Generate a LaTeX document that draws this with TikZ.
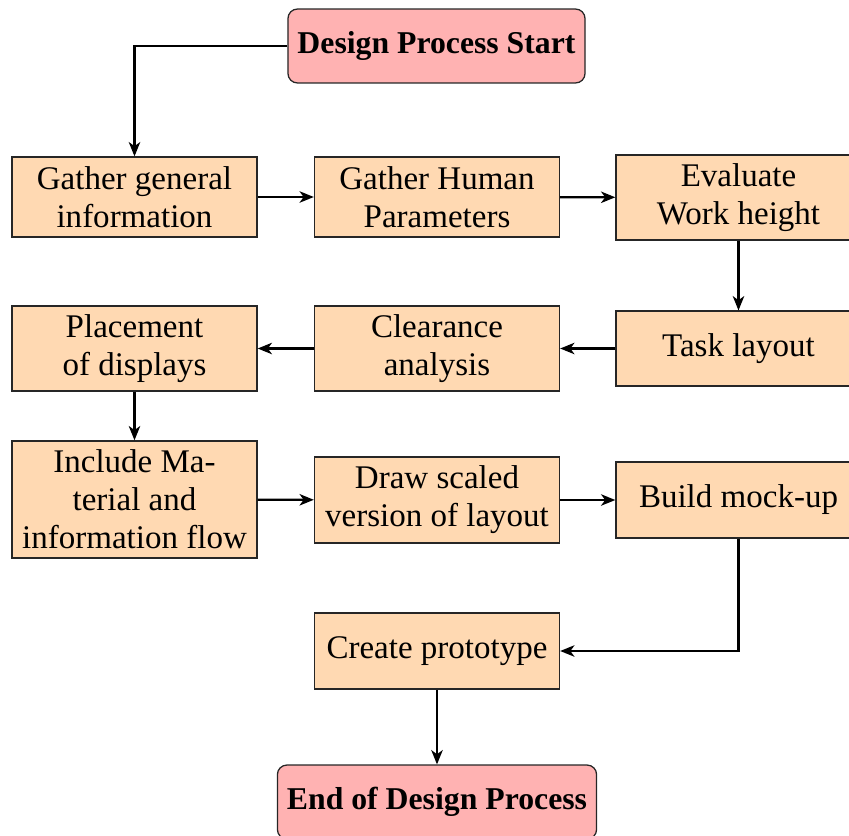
\documentclass[tikz,border=0pt]{standalone}
\usepackage{fontspec}
\setmainfont{Liberation Serif}
\usetikzlibrary{arrows.meta}
\begin{document}
\begin{tikzpicture}[x=0.315pt,y=-0.315pt,
  every node/.style={font=\fontsize{10.4}{12}\selectfont},
  box/.style={draw=black!85, thin, fill=orange!30, align=center,
    inner xsep=2pt, inner ysep=1pt, minimum width=77.2pt},
  term/.style={draw=black!85, thin, fill=red!30, rounded corners=3pt, align=center,
    inner xsep=3pt, minimum height=23.3pt, font=\fontsize{10}{12}\selectfont\bfseries},
  arr/.style={-{Stealth[length=4.5pt,width=3.6pt,inset=1.3pt]}, line width=0.7pt}]
\useasboundingbox (0,0) rectangle (849,836);
\node[term] (start) at (436.5,46) {Design Process Start};
\node[box, minimum height=25.2pt] (g1) at (134.5,197) {Gather general\\information};
\node[box, minimum height=25.2pt] (g2) at (437,197) {Gather Human\\Parameters};
\node[box, minimum height=26.8pt] (ev) at (738.5,197.5) {Evaluate\\Work height};
\node[box, minimum height=23.6pt] (task) at (738.5,348.5) {Task layout};
\node[box, minimum height=26.8pt] (clear) at (437,348.5) {Clearance\\analysis};
\node[box, minimum height=26.8pt] (place) at (134.5,348.5) {Placement\\of displays};
\node[box, minimum height=36.9pt] (incl) at (134.5,499.5) {Include Ma-\\terial and\\information flow};
\node[box, minimum height=27.1pt] (draw) at (437,500) {Draw scaled\\version of layout};
\node[box, minimum height=23.9pt] (build) at (738.5,500) {Build mock-up};
\node[box, minimum height=23.9pt] (proto) at (437,651) {Create prototype};
\node[term] (end) at (437,802) {End of Design Process};
\draw[arr] (start.west) -| (g1.north);
\draw[arr] (g1) -- (g2);
\draw[arr] (g2) -- (ev);
\draw[arr] (ev) -- (task);
\draw[arr] (task) -- (clear);
\draw[arr] (clear) -- (place);
\draw[arr] (place) -- (incl);
\draw[arr] (incl) -- (draw);
\draw[arr] (draw) -- (build);
\draw[arr] (build.south) |- (proto.east);
\draw[arr] (proto) -- (end);
\end{tikzpicture}
\end{document}
